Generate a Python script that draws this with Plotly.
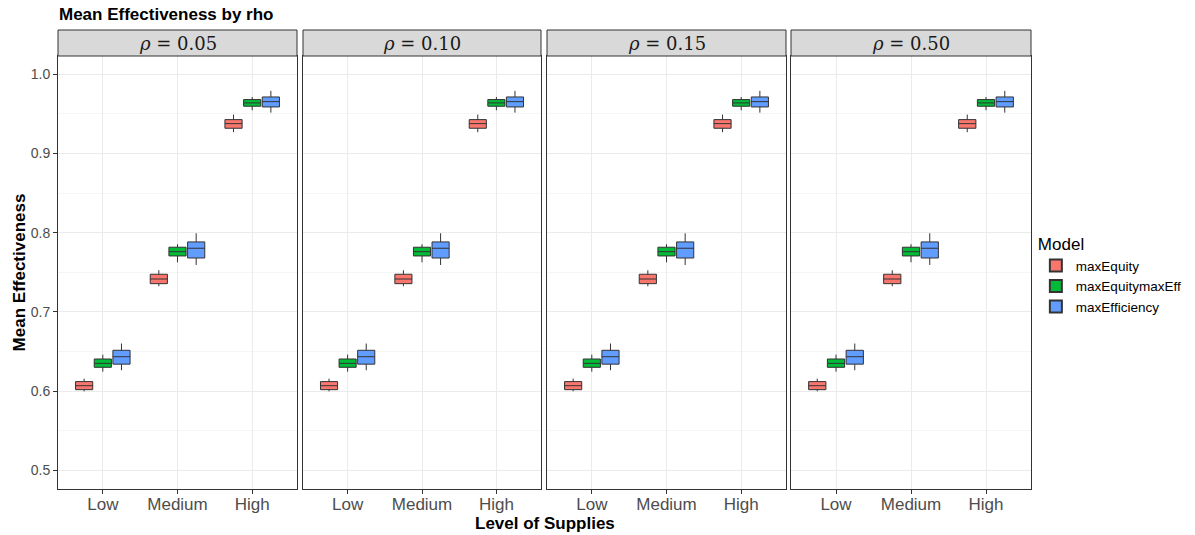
import plotly.graph_objects as go

categories = ["Low", "Medium", "High"]
models = ["maxEquity", "maxEquitymaxEff", "maxEfficiency"]
rhos = ["0.05", "0.10", "0.15", "0.50"]
colors = ["#F8766D", "#00BA38", "#619CFF"]
yticks = [0.5, 0.6, 0.7, 0.8, 0.9, 1.0]

# box statistics per model, across categories (Low, Medium, High)
lower = {
    "maxEquity": [0.5997, 0.7323, 0.9268],
    "maxEquitymaxEff": [0.6245, 0.7626, 0.9545],
    "maxEfficiency": [0.6263, 0.7592, 0.9515],
}
q1 = {
    "maxEquity": [0.6018, 0.7356, 0.9318],
    "maxEquitymaxEff": [0.6300, 0.7706, 0.9596],
    "maxEfficiency": [0.6340, 0.7680, 0.9587],
}
median = {
    "maxEquity": [0.6068, 0.7415, 0.9376],
    "maxEquitymaxEff": [0.6350, 0.7760, 0.9638],
    "maxEfficiency": [0.6434, 0.7803, 0.9654],
}
q3 = {
    "maxEquity": [0.6120, 0.7475, 0.9427],
    "maxEquitymaxEff": [0.6405, 0.7816, 0.9680],
    "maxEfficiency": [0.6515, 0.7883, 0.9713],
}
upper = {
    "maxEquity": [0.6157, 0.7525, 0.9490],
    "maxEquitymaxEff": [0.6460, 0.7854, 0.9713],
    "maxEfficiency": [0.6600, 0.7992, 0.9790],
}

W, H = 1195, 535
L, R, T, B = 58, 1031, 56, 489
pw = R - L
ph = B - T
panels_px = [(58, 297), (303, 541), (547, 786), (791, 1031)]

fig = go.Figure()
layout = {}
for i, rho in enumerate(rhos):
    xa = "x" if i == 0 else f"x{i+1}"
    ya = "y" if i == 0 else f"y{i+1}"
    for m, c in zip(models, colors):
        fig.add_trace(go.Box(
            x=categories, q1=q1[m], median=median[m], q3=q3[m],
            lowerfence=lower[m], upperfence=upper[m],
            name=m, legendgroup=m, showlegend=(i == 0),
            fillcolor=c, line=dict(color="#333333", width=1),
            whiskerwidth=0, boxpoints=False,
            xaxis=xa, yaxis=ya, offsetgroup=m,
        ))
    x0, x1 = panels_px[i]
    d0, d1 = (x0 - L) / pw, (x1 - L) / pw
    key = "" if i == 0 else str(i + 1)
    layout[f"xaxis{key}"] = dict(
        domain=[d0, d1], type="category", categoryorder="array",
        categoryarray=categories, range=[-0.6, 2.6],
        showgrid=True, gridcolor="#EBEBEB", gridwidth=1,
        showline=True, linecolor="#333333", linewidth=1, mirror=True,
        ticks="outside", ticklen=4, tickcolor="#333333",
        ticklabelstandoff=-4,
        tickfont=dict(family="Liberation Sans, Arial", size=17, color="#4D4D4D"),
        anchor=ya, zeroline=False, fixedrange=True,
    )
    layout[f"yaxis{key}"] = dict(
        domain=[0, 1], range=[0.4764, 1.023],
        tickvals=yticks, ticktext=[f"{v:.1f}" for v in yticks],
        showgrid=True, gridcolor="#EBEBEB", gridwidth=1,
        minor=dict(tickvals=[0.55, 0.65, 0.75, 0.85, 0.95], showgrid=True,
                   gridcolor="#F5F5F5", ticks=""),
        showline=True, linecolor="#333333", linewidth=1, mirror=True,
        ticks="outside" if i == 0 else "", ticklen=4, tickcolor="#333333",
        showticklabels=(i == 0),
        tickfont=dict(family="Liberation Sans, Arial", size=14, color="#4D4D4D"),
        anchor=xa, zeroline=False, fixedrange=True,
    )
    if i == 0:
        layout["yaxis"]["title"] = dict(
            text="<b>Mean Effectiveness</b>", standoff=0,
            font=dict(family="Liberation Sans, Arial", size=17, color="black"))
    # strip
    fig.add_shape(type="rect", xref="paper", yref="paper",
                  x0=d0, x1=d1, y0=1.0, y1=(B - 30) / ph,
                  fillcolor="#D9D9D9", line=dict(color="#333333", width=1))
    fig.add_annotation(xref="paper", yref="paper", x=(d0 + d1) / 2,
                       y=(B - 43) / ph, text=f"<i>ρ</i> = {rho}", showarrow=False,
                       font=dict(family="DejaVu Serif", size=18, color="#1A1A1A"),
                       xanchor="center", yanchor="middle")

fig.add_annotation(xref="paper", yref="paper", x=-0.001, y=(B - 15) / ph,
                   text="<b>Mean Effectiveness by rho</b>", showarrow=False,
                   xanchor="left", yanchor="middle",
                   font=dict(family="Liberation Sans, Arial", size=17, color="black"))
fig.add_annotation(xref="paper", yref="paper", x=0.5, y=(B - 523) / ph,
                   text="<b>Level of Supplies</b>", showarrow=False,
                   xanchor="center", yanchor="middle",
                   font=dict(family="Liberation Sans, Arial", size=17, color="black"))

fig.update_layout(
    width=W, height=H,
    margin=dict(l=L, r=W - R, t=T, b=H - B, pad=0, autoexpand=False),
    paper_bgcolor="white", plot_bgcolor="white",
    boxmode="group", boxgap=0.25, boxgroupgap=0.08,
    legend=dict(x=1.005, xanchor="left", y=(B - 228) / ph, yanchor="top",
                title=dict(text="Model", font=dict(family="Liberation Sans, Arial", size=17, color="black")),
                font=dict(family="Liberation Sans, Arial", size=13.5, color="black"),
                tracegroupgap=0, itemsizing="constant"),
    showlegend=True,
    **layout,
)
fig.write_html("out.html")
